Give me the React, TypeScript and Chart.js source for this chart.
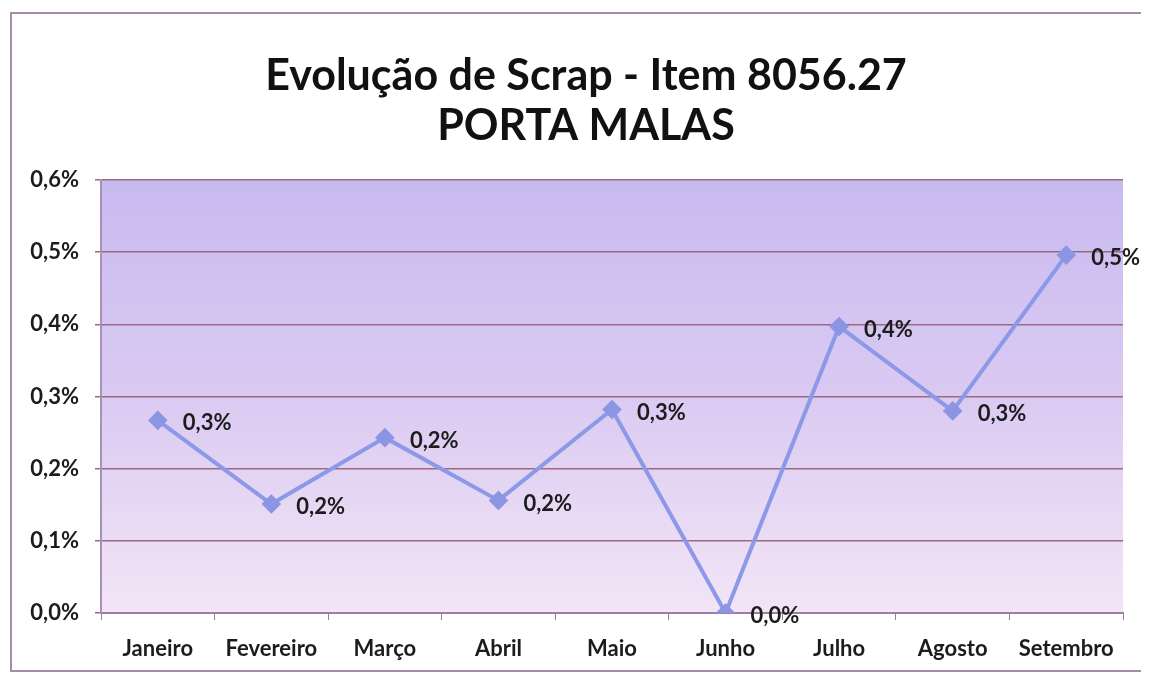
import React, { useEffect, useRef } from "react";
import { Chart, registerables } from "chart.js";

Chart.register(...registerables);

const titleLines = ["Evolução de Scrap - Item 8056.27", "PORTA MALAS"];
const months = ["Janeiro", "Fevereiro", "Março", "Abril", "Maio", "Junho", "Julho", "Agosto", "Setembro"];
const scrapPct = [0.267, 0.151, 0.243, 0.156, 0.282, 0.0, 0.397, 0.28, 0.496];
const yTicks = [0, 0.1, 0.2, 0.3, 0.4, 0.5, 0.6];

const fmt = (v: number) => v.toFixed(1).replace(".", ",") + "%";
const FONT = "Lato, 'Open Sans', sans-serif";

const bgPlugin = {
  id: "plotBg",
  beforeDraw(chart: any) {
    const { ctx, chartArea } = chart;
    if (!chartArea) return;
    const g = ctx.createLinearGradient(0, chartArea.top, 0, chartArea.bottom);
    g.addColorStop(0, "#c8baf0");
    g.addColorStop(0.5, "#dacaf2");
    g.addColorStop(1, "#f3e5f6");
    ctx.save();
    ctx.fillStyle = g;
    ctx.fillRect(chartArea.left, chartArea.top, chartArea.right - chartArea.left, chartArea.bottom - chartArea.top);
    ctx.restore();
  },
};

const titlePlugin = {
  id: "twoLineTitle",
  afterDraw(chart: any) {
    const { ctx } = chart;
    ctx.save();
    ctx.font = `bold 43px ${FONT}`;
    ctx.fillStyle = "#111111";
    ctx.textAlign = "center";
    ctx.textBaseline = "middle";
    titleLines.forEach((line, i) => {
      ctx.fillText(line, 574, 62 + i * 50);
    });
    ctx.restore();
  },
};

const labelPlugin = {
  id: "pointLabels",
  afterDatasetsDraw(chart: any) {
    const { ctx } = chart;
    const meta = chart.getDatasetMeta(0);
    const data = chart.data.datasets[0].data as number[];
    ctx.save();
    ctx.font = `bold 22px ${FONT}`;
    ctx.fillStyle = "#1c1c1c";
    ctx.textAlign = "left";
    ctx.textBaseline = "middle";
    meta.data.forEach((pt: any, i: number) => {
      ctx.fillText(fmt(data[i]), pt.x + 25, pt.y + 3);
    });
    ctx.restore();
  },
};

export default function App() {
  const ref = useRef<HTMLCanvasElement | null>(null);

  useEffect(() => {
    if (!ref.current) return;
    const chart = new Chart(ref.current, {
      type: "line",
      data: {
        labels: months,
        datasets: [
          {
            data: scrapPct,
            borderColor: "#8c98e8",
            backgroundColor: "#8b95e4",
            borderWidth: 4,
            pointStyle: "rectRot",
            pointRadius: 7,
            pointBorderColor: "#8b95e4",
            pointBackgroundColor: "#8b95e4",
            tension: 0,
          },
        ],
      },
      options: {
        responsive: false,
        animation: false,
        layout: { padding: { left: 0, right: 24, top: 166, bottom: 0 } },
        plugins: {
          legend: { display: false },
          tooltip: { enabled: false },
          title: { display: false },
        },
        scales: {
          x: {
            offset: true,
            grid: {
              offset: true,
              drawOnChartArea: false,
              drawTicks: true,
              tickLength: 7,
              color: "#8a8a8a",
            },
            border: { display: true, color: "#a07ca8", width: 2 },
            ticks: {
              color: "#1c1c1c",
              font: { family: FONT, size: 22, weight: "bold" },
              padding: 16,
              maxRotation: 0,
              autoSkip: false,
            },
            afterFit(scale: any) {
              scale.height = 57;
            },
          },
          y: {
            min: 0,
            max: 0.6,
            afterBuildTicks(scale: any) {
              scale.ticks = yTicks.map((v) => ({ value: v }));
            },
            grid: {
              color: "#9b6a80",
              lineWidth: 1.5,
              drawTicks: true,
              tickLength: 6,
              tickColor: "#9b6a80",
            },
            border: { display: true, color: "#a990b8", width: 2 },
            ticks: {
              color: "#1c1c1c",
              font: { family: FONT, size: 22, weight: "bold" },
              padding: 16,
              callback: (v: any) => fmt(Number(v)),
            },
            afterFit(scale: any) {
              scale.width = 89;
            },
          },
        },
      },
      plugins: [bgPlugin, labelPlugin, titlePlugin],
    });
    return () => chart.destroy();
  }, []);

  return (
    <div
      style={{
        marginLeft: 2,
        marginTop: 4,
        width: 1135,
        height: 656,
        border: "2px solid #a98aa8",
        background: "#ffffff",
      }}
    >
      <canvas ref={ref} width={1135} height={656} style={{ display: "block" }} />
    </div>
  );
}
